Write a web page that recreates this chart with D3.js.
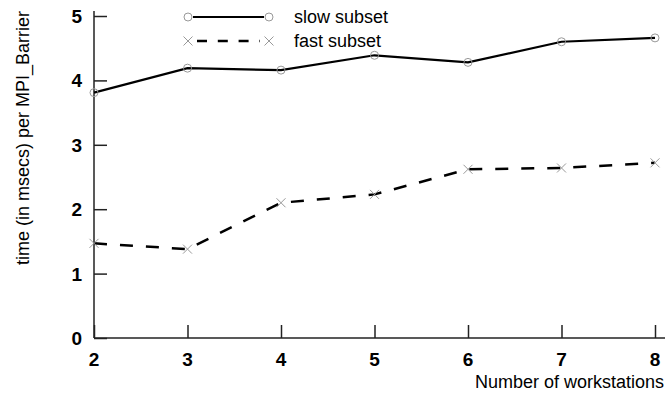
<!DOCTYPE html>
<html>
<head>
<meta charset="utf-8">
<script src="https://cdn.jsdelivr.net/npm/d3@7"></script>
<style>
  html, body { margin: 0; padding: 0; background: #fff; }
  svg { display: block; font-family: "Liberation Sans", Arial, sans-serif; }
</style>
</head>
<body>
<svg id="chart" width="665" height="398"></svg>
<script>
const workstations = [2, 3, 4, 5, 6, 7, 8];
const slowSubset = [3.81, 4.19, 4.16, 4.39, 4.28, 4.60, 4.66];
const fastSubset = [1.47, 1.38, 2.10, 2.23, 2.62, 2.64, 2.72];
const seriesNames = ["slow subset", "fast subset"];
const xTicks = [2, 3, 4, 5, 6, 7, 8];
const yTicks = [0, 1, 2, 3, 4, 5];
const xTitle = "Number of workstations";
const yTitle = "time (in msecs) per MPI_Barrier";

const svg = d3.select("#chart");
const x = d3.scaleLinear().domain([2, 8]).range([94, 655]);
const y = d3.scaleLinear().domain([0, 5]).range([338, 16]);
const axisColor = "#222";

// y axis
const yAxis = d3.axisRight(y).tickValues(yTicks).tickSize(13).tickFormat("");
const gy = svg.append("g").attr("transform", `translate(${x(2)},0)`).call(yAxis);
gy.select(".domain").remove();
gy.selectAll(".tick line").attr("stroke", axisColor).attr("stroke-width", 1.5);
svg.append("line").attr("x1", x(2)).attr("x2", x(2)).attr("y1", 11).attr("y2", y(0))
  .attr("stroke", axisColor).attr("stroke-width", 1.5);
svg.selectAll(".ylab").data(yTicks).join("text")
  .attr("x", 82).attr("y", d => y(d) + 7)
  .attr("text-anchor", "end").attr("font-size", 19).attr("font-weight", "bold")
  .attr("fill", "#000").text(d => d);

// x axis
const xAxis = d3.axisTop(x).tickValues(xTicks).tickSize(13).tickFormat("");
const gx = svg.append("g").attr("transform", `translate(0,${y(0)})`).call(xAxis);
gx.select(".domain").remove();
gx.selectAll(".tick line").attr("stroke", axisColor).attr("stroke-width", 1.5);
svg.append("line").attr("x1", x(2)).attr("x2", 665).attr("y1", y(0)).attr("y2", y(0))
  .attr("stroke", axisColor).attr("stroke-width", 1.5);
svg.selectAll(".xlab").data(xTicks).join("text")
  .attr("x", d => x(d)).attr("y", 365.5)
  .attr("text-anchor", "middle").attr("font-size", 19).attr("font-weight", "bold")
  .attr("fill", "#000").text(d => d);

// titles
svg.append("text").attr("x", 664).attr("y", 388).attr("text-anchor", "end")
  .attr("font-size", 18).attr("fill", "#000").text(xTitle);
svg.append("text").attr("transform", `translate(28.5,138) rotate(-90)`)
  .attr("text-anchor", "middle").attr("font-size", 18).attr("fill", "#000").text(yTitle);

// lines
const line = d3.line().x((d, i) => x(workstations[i])).y(d => y(d));
svg.append("path").datum(slowSubset).attr("d", line)
  .attr("fill", "none").attr("stroke", "#000").attr("stroke-width", 2.2);
svg.append("path").datum(fastSubset).attr("d", line)
  .attr("fill", "none").attr("stroke", "#000").attr("stroke-width", 2.5)
  .attr("stroke-dasharray", "13,13");

const markerColor = "#999";
function circleMarker(g, cx, cy) {
  g.append("circle").attr("cx", cx).attr("cy", cy).attr("r", 4)
    .attr("fill", "none").attr("stroke", markerColor).attr("stroke-width", 1);
}
function crossMarker(g, cx, cy) {
  const s = 4.5;
  g.append("path").attr("d", `M${cx - s},${cy - s}L${cx + s},${cy + s}M${cx - s},${cy + s}L${cx + s},${cy - s}`)
    .attr("stroke", markerColor).attr("stroke-width", 1).attr("fill", "none");
}
const mg = svg.append("g");
slowSubset.forEach((v, i) => circleMarker(mg, x(workstations[i]), y(v)));
fastSubset.forEach((v, i) => crossMarker(mg, x(workstations[i]), y(v)));

// legend
const lg = svg.append("g");
const legRows = [17, 41];
lg.append("line").attr("x1", 193).attr("x2", 264).attr("y1", legRows[0]).attr("y2", legRows[0])
  .attr("stroke", "#000").attr("stroke-width", 2.2);
circleMarker(lg, 188, legRows[0]);
circleMarker(lg, 269, legRows[0]);
lg.append("line").attr("x1", 197).attr("x2", 260).attr("y1", legRows[1]).attr("y2", legRows[1])
  .attr("stroke", "#000").attr("stroke-width", 2.5).attr("stroke-dasharray", "10,10.8");
crossMarker(lg, 188, legRows[1]);
crossMarker(lg, 269, legRows[1]);
lg.selectAll(".legtext").data(seriesNames).join("text")
  .attr("x", 294).attr("y", (d, i) => legRows[i] + 6)
  .attr("font-size", 18).attr("fill", "#000").text(d => d);
</script>
</body>
</html>
